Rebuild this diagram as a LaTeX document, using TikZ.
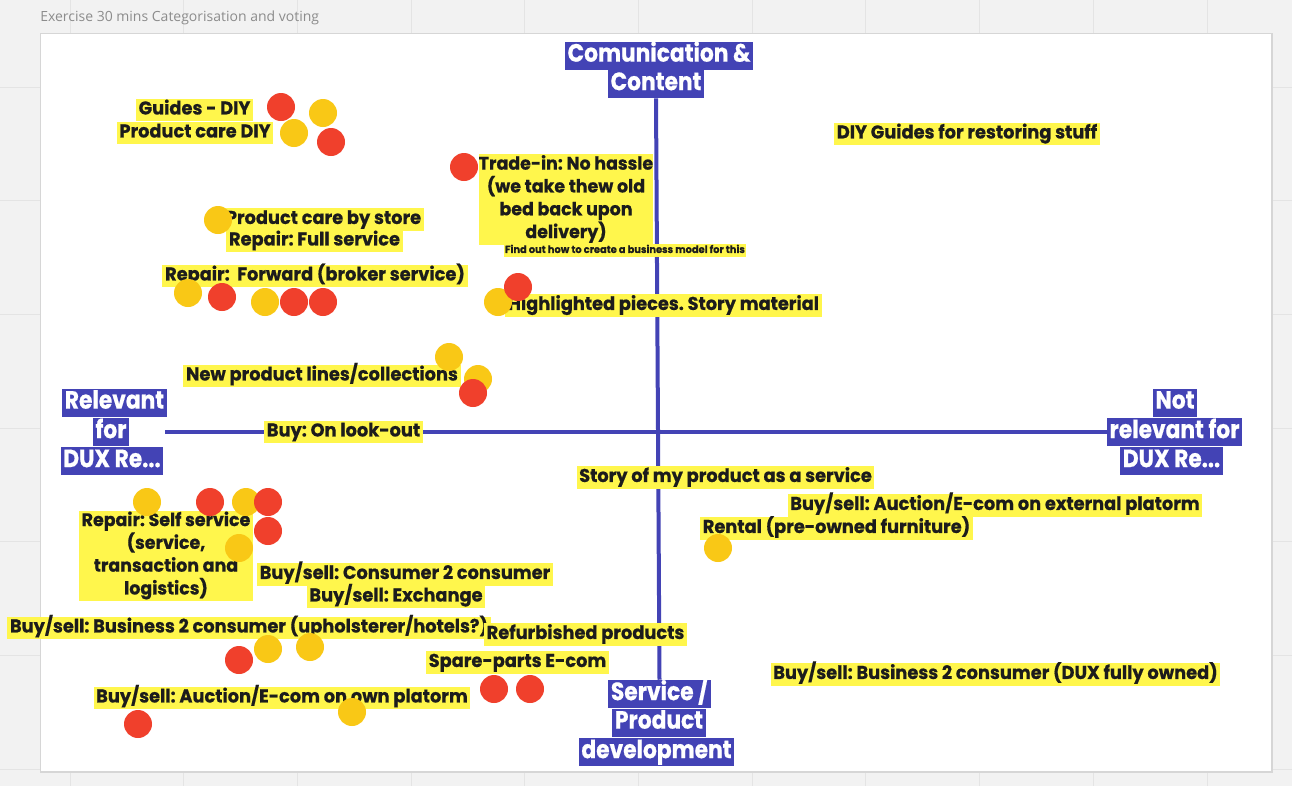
\documentclass[tikz,border=0pt]{standalone}
\usepackage{fontspec}
\newfontfamily\pop{Poppins}[FakeStretch=0.96,FakeBold=0.6]
\newfontfamily\popb{Poppins}[FakeStretch=0.87,FakeBold=0.6]
\newfontfamily\osans{Open Sans}
\definecolor{pagebg}{RGB}{242,242,242}
\definecolor{gridc}{RGB}{228,228,228}
\definecolor{boardline}{RGB}{214,214,214}
\definecolor{axisblue}{RGB}{67,67,181}
\definecolor{hly}{RGB}{255,246,76}
\definecolor{ink}{RGB}{28,28,28}
\definecolor{reddot}{RGB}{240,64,44}
\definecolor{yeldot}{RGB}{249,200,22}
\definecolor{titlegray}{RGB}{140,140,140}
\frenchspacing
\begin{document}
\begin{tikzpicture}[x=0.75pt,y=-0.75pt,
  hl/.style={fill=hly,text=ink,font=\pop\bfseries\fontsize{13.9}{17.25}\selectfont,
    inner xsep=2pt,inner ysep=1.4pt,text height=10.3pt,text depth=3.6pt},
  hlsmall/.style={fill=hly,text=ink,font=\pop\bfseries\fontsize{7.7}{9}\selectfont,
    inner xsep=1pt,inner ysep=1pt,text height=5.7pt,text depth=2pt},
  hlblock/.style={fill=hly,text=ink,font=\pop\bfseries\fontsize{13.6}{17.1}\selectfont,
    align=center,inner sep=0pt,minimum width=130.5pt},
  bl/.style={fill=axisblue,text=white,font=\popb\bfseries\fontsize{18.75}{21.75}\selectfont,
    inner xsep=2pt,inner ysep=1.2pt,text height=13.9pt,text depth=4.7pt},
  axis/.style={draw=axisblue,line width=3pt},
  rd/.style={circle,fill=reddot,inner sep=0pt,minimum size=21pt},
  yd/.style={circle,fill=yeldot,inner sep=0pt,minimum size=21pt}]
\useasboundingbox (0,0) rectangle (1292,786);
% page background and grid
\fill[pagebg] (0,0) rectangle (1292,786);
\foreach \k in {0,...,10} \draw[gridc,line width=0.75pt] ({70+113.7*\k},0) -- ({70+113.7*\k},786);
\foreach \k in {0,...,6} \draw[gridc,line width=0.75pt] (0,{87+113.7*\k}) -- (1292,{87+113.7*\k});
\node[anchor=west,text=titlegray,font=\osans\fontsize{10.5}{12}\selectfont,inner sep=0pt] (title) at (40,18) {Exercise 30 mins Categorisation and voting};
% board
\fill[boardline] (40,33) rectangle (1273,773);
\fill[white] (41,34) rectangle (1271,771);
% axis labels
\node[bl] (comm1) at (659,55.5) {Comunication \&};
\node[bl] (comm2) at (656,84) {Content};
\node[bl] (rel1) at (114.5,402.5) {Relevant};
\node[bl] (rel2) at (111,432) {for};
\node[bl] (rel3) at (112,461) {DUX Re...};
\node[bl] (nrel1) at (1175,402.5) {Not};
\node[bl] (nrel2) at (1174.5,432) {relevant for};
\node[bl] (nrel3) at (1171.5,461) {DUX Re...};
\node[bl] (serv1) at (659.5,694) {Service /};
\node[bl] (serv2) at (659,722.5) {Product};
\node[bl] (serv3) at (656.5,752) {development};
% axes
\coordinate (hL) at (165,432);
\draw[axis] (comm2.south) -- (serv1.north);
\draw[axis] (hL) -- (nrel2.west);
% labels
\node[hl] (g1) at (194.5,110) {Guides - DIY};
\node[hl] (g2) at (195,133) {Product care DIY};
\node[hl] (diy) at (967,134) {DIY Guides for restoring stuff};
\node[hlblock,minimum height=68.25pt] (trade) at (566,199) {Trade-in: No hassle\\(we take thew old\\bed back upon\\delivery)};
\node[hlsmall] (find) at (625,250.5) {Find out how to create a business model for this};
\node[hl] (pcs) at (323.5,219.5) {Product care by store};
\node[hl] (rfs) at (314.5,241) {Repair: Full service};
\node[hl] (fwd) at (315,276) {Repair:\ \ Forward (broker service)};
\node[hl] (hp) at (663.5,305.5) {Highlighted pieces. Story material};
\node[hl] (npl) at (322,376) {New product lines/collections};
\node[hl] (look) at (343.5,432) {Buy: On look-out};
\node[hl] (story) at (725.5,477.5) {Story of my product as a service};
\node[hl] (ext) at (995,505.5) {Buy/sell: Auction/E-com on external platorm};
\node[hl] (rent) at (836.5,528.5) {Rental (pre-owned furniture)};
\node[hlblock,minimum height=67.5pt] (self) at (166,555.5) {Repair: Self service\\(service,\\transaction and\\logistics)};
\node[hl] (c2c) at (405,574.5) {Buy/sell: Consumer 2 consumer};
\node[hl] (exch) at (396,597) {Buy/sell: Exchange};
\node[hl] (b2c) at (249,628) {Buy/sell: Business 2 consumer (upholsterer/hotels?)};
\node[hl] (refurb) at (585.5,634.5) {Refurbished products};
\node[hl] (spare) at (517.5,662.5) {Spare-parts E-com};
\node[hl] (own) at (282,698) {Buy/sell: Auction/E-com on own platorm};
\node[hl] (dux) at (995.5,674.5) {Buy/sell: Business 2 consumer (DUX fully owned)};
% voting dots
\node[rd] (d1) at (281,107) {};
\node[yd] (d2) at (323,113) {};
\node[yd] (d3) at (294,133) {};
\node[rd] (d4) at (331,142) {};
\node[rd] (d5) at (464,167) {};
\node[yd] (d6) at (218,220) {};
\node[yd] (d7) at (188,293) {};
\node[rd] (d8) at (222,297) {};
\node[yd] (d9) at (265,302) {};
\node[rd] (d10) at (294,302) {};
\node[rd] (d11) at (323,302) {};
\node[yd] (d12) at (498,302) {};
\node[rd] (d13) at (518,287) {};
\node[yd] (d14) at (449,357) {};
\node[yd] (d15) at (478,379) {};
\node[rd] (d16) at (473,393) {};
\node[yd] (d17) at (147,502) {};
\node[rd] (d18) at (210,502) {};
\node[yd] (d19) at (246,502) {};
\node[rd] (d20) at (268,502) {};
\node[rd] (d21) at (268,531) {};
\node[yd] (d22) at (239,548) {};
\node[yd] (d23) at (718,548) {};
\node[rd] (d24) at (239,660) {};
\node[yd] (d25) at (268,649) {};
\node[yd] (d26) at (310,647) {};
\node[rd] (d27) at (494,689) {};
\node[rd] (d28) at (530,689) {};
\node[yd] (d29) at (352,712) {};
\node[rd] (d30) at (138,724) {};
\end{tikzpicture}
\end{document}
